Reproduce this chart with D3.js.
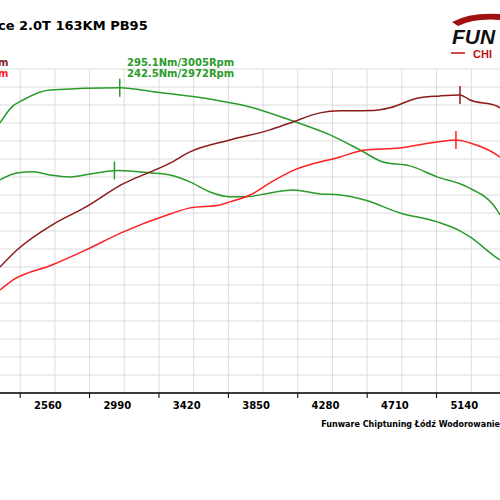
<!DOCTYPE html>
<html><head><meta charset="utf-8">
<script src="https://d3js.org/d3.v7.min.js"></script>
<style>body{margin:0;background:#fff}</style></head>
<body><svg id="c" width="500" height="500"></svg>
<script>
const xTickLabels = [2560, 2990, 3420, 3850, 4280, 4710, 5140];
const torqueTuned = [[2263,272.7],[2337,282.9],[2405,287.3],[2573,293.7],[3007,295.1],[3223,292.4],[3595,287.3],[3812,282.9],[4060,274.6],[4308,265.1],[4494,255.5],[4636,247.9],[4803,245.4],[4971,238.4],[5157,232],[5342,217.4],[5361,214.2]];
const torqueStock = [[2263,236.5],[2368,240.9],[2467,241.6],[2573,239.6],[2697,238.4],[2821,240.3],[2994,242.5],[3192,241],[3316,239.6],[3440,235.2],[3564,228.8],[3688,225.7],[3781,225.7],[3936,228.2],[4078,230.1],[4246,227.6],[4370,226.9],[4524,223.7],[4741,215.5],[4971,209.8],[5101,204.7],[5175,200.2],[5342,186.9],[5361,185.6]];
const powerTuned = [[2263,181.1],[2368,191.9],[2585,207.8],[2796,219.3],[3013,233.3],[3316,247.1],[3440,254.3],[3688,261.9],[3936,268.3],[4060,272.7],[4246,279.1],[4370,280.4],[4574,280.6],[4679,282.3],[4853,288.6],[4989,289.9],[5113,290.5],[5175,287.3],[5342,283.5],[5361,282.3]];
const powerStock = [[2263,166.5],[2344,172.9],[2585,182.4],[2796,192],[3013,202.8],[3316,214.8],[3440,218.7],[3626,220.6],[3688,222.5],[3812,226.9],[3936,234.6],[4060,241.6],[4370,251.1],[4524,255.5],[4741,256.8],[4971,260.6],[5088,261.9],[5175,260],[5342,252.4],[5361,251]];
const peaks = [[3005,295.1,"#2a9a2a"],[2972,242.5,"#2a9a2a"],[5113,290.5,"#8b1a1a"],[5088,261.9,"#ff2020"]];
const peakLabels = ["295.1Nm/3005Rpm","242.5Nm/2972Rpm"];

const svg = d3.select("#c");
const x = d3.scaleLinear().domain([2263, 5361]).range([0, 500]);
const y = d3.scaleLinear().domain([101, 307]).range([393, 69]);
const g = svg.append("g");
const gx = d3.range(0, 15).map(i => 2388 + i * 215);
g.selectAll(".vg").data(gx).join("line").attr("x1", d=>x(d)).attr("x2", d=>x(d)).attr("y1",69).attr("y2",393).attr("stroke","#dcdcdc");
const gy = d3.range(0, 19).map(i => 101 + i * (206/18));
g.selectAll(".hg").data(gy).join("line").attr("x1",0).attr("x2",500).attr("y1",d=>y(d)).attr("y2",d=>y(d)).attr("stroke","#dcdcdc");
g.append("line").attr("x1",0).attr("x2",500).attr("y1",393).attr("y2",393).attr("stroke","#000").attr("stroke-width",1.5);
g.selectAll(".tk").data(xTickLabels).join("line").attr("x1",d=>x(d-172)).attr("x2",d=>x(d-172)).attr("y1",393).attr("y2",398).attr("stroke","#000");
g.selectAll(".tl").data(xTickLabels).join("text").attr("x",d=>x(d)).attr("y",409).attr("text-anchor","middle")
 .attr("font-family","Verdana, DejaVu Sans").attr("font-size",10).attr("font-weight","bold").text(d=>d);
const line = d3.line().x(d=>x(d[0])).y(d=>y(d[1])).curve(d3.curveMonotoneX);
[[torqueTuned,"#2a9a2a"],[torqueStock,"#2a9a2a"],[powerTuned,"#8b1a1a"],[powerStock,"#ff2020"]].forEach(([d,c])=>{
  g.append("path").datum(d).attr("d",line).attr("fill","none").attr("stroke",c).attr("stroke-width",1.5);
});
peaks.forEach(p=>{
  g.append("line").attr("x1",x(p[0])).attr("x2",x(p[0])).attr("y1",y(p[1])-9).attr("y2",y(p[1])+9).attr("stroke",p[2]).attr("stroke-width",1.5);
});
svg.append("text").attr("x",-2).attr("y",30).attr("font-family","Verdana, DejaVu Sans").attr("font-size",13).attr("font-weight","bold").text("ce 2.0T 163KM PB95");
svg.append("text").attr("x",-2).attr("y",66).attr("font-family","Verdana, DejaVu Sans").attr("font-size",10).attr("font-weight","bold").attr("fill","#8b1a1a").text("m");
svg.append("text").attr("x",-2).attr("y",77).attr("font-family","Verdana, DejaVu Sans").attr("font-size",10).attr("font-weight","bold").attr("fill","#ff2020").text("m");
peakLabels.forEach((t,i)=>svg.append("text").attr("x",127).attr("y",66+i*11).attr("font-family","Verdana, DejaVu Sans").attr("font-size",10).attr("font-weight","bold").attr("fill","#2a9a2a").text(t));
svg.append("text").attr("x",500).attr("y",427).attr("text-anchor","end").attr("font-family","Verdana, DejaVu Sans").attr("font-size",8).attr("font-weight","bold").text("Funware Chiptuning Łódź Wodorowanie");
svg.append("path").attr("d","M452,22 Q470,12 500,14 L500,20 Q475,18 458,26 Z").attr("fill","#a01010");
svg.append("text").attr("x",452).attr("y",44).attr("font-family","Liberation Sans").attr("font-size",21).attr("font-weight","bold").attr("font-style","italic").attr("fill","#111").text("FUN");
svg.append("line").attr("x1",451).attr("x2",465).attr("y1",53).attr("y2",53).attr("stroke","#c01010").attr("stroke-width",1.5);
svg.append("text").attr("x",473).attr("y",58).attr("font-family","Liberation Sans").attr("font-size",11).attr("font-weight","bold").attr("fill","#c01010").text("CHI");
</script></body></html>
